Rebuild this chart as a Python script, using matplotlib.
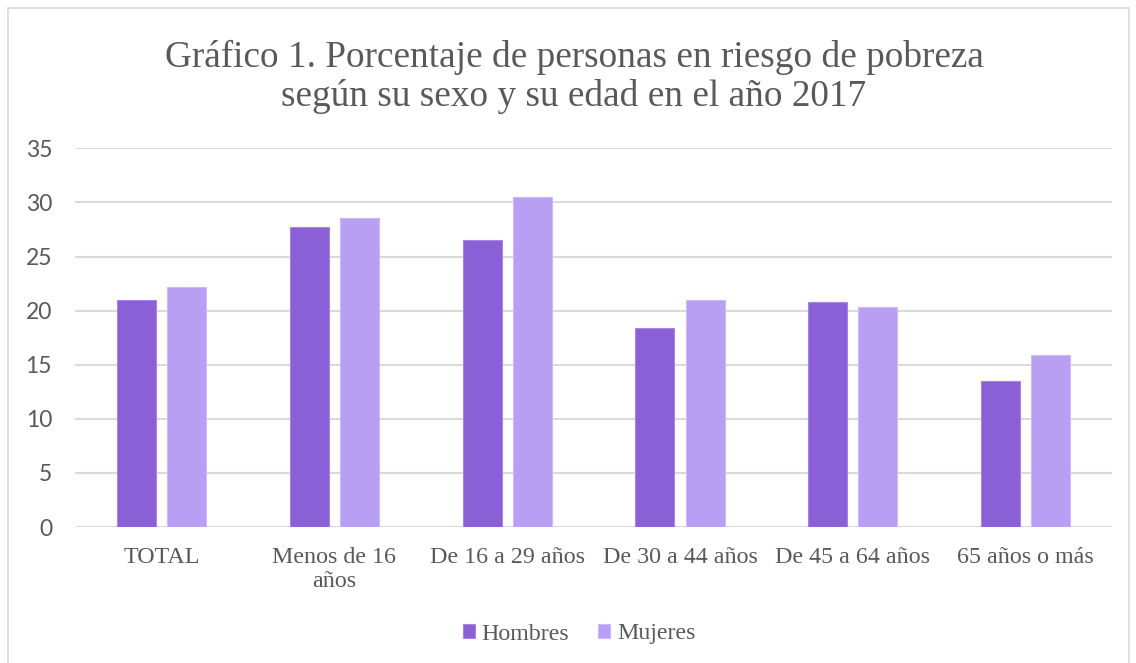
import matplotlib.pyplot as plt
import numpy as np
from matplotlib.patches import Rectangle

categorias = ['TOTAL', 'Menos de 16\naños', 'De 16 a 29 años', 'De 30 a 44 años',
              'De 45 a 64 años', '65 años o más']
hombres = [21.0, 27.7, 26.5, 18.4, 20.8, 13.5]
mujeres = [22.2, 28.6, 30.5, 21.0, 20.3, 15.9]
series = ['Hombres', 'Mujeres']

color_h = '#8B5FD6'
color_m = '#B89FF3'
gris = '#595959'

fig = plt.figure(figsize=(11.36, 6.63), dpi=100)
ax = fig.add_axes([0.066, 0.2051, 0.913, 0.5712])

# marco exterior del grafico
fig.patches.append(Rectangle((8 / 1136, -0.05), 1121 / 1136, 1 - 8 / 663 + 0.05,
                             transform=fig.transFigure, fill=False,
                             edgecolor='#D9D9D9', linewidth=1.2))

x = np.arange(len(categorias))
ancho = 0.225
desp = 0.145
ax.bar(x - desp, hombres, ancho, color=color_h, edgecolor='#A585E6', linewidth=0.8,
       label=series[0], zorder=3)
ax.bar(x + desp, mujeres, ancho, color=color_m, edgecolor='#CDB9FA', linewidth=0.8,
       label=series[1], zorder=3)

ax.set_xlim(-0.5, len(categorias) - 0.5)
ax.set_ylim(0, 35)
ax.set_yticks(range(0, 36, 5))
ax.grid(axis='y', color='#D9D9D9', linewidth=1.5, zorder=0)
for s in ax.spines.values():
    s.set_visible(False)
ax.tick_params(length=0)
ax.tick_params(axis='y', pad=16.5)
ax.tick_params(axis='x', pad=14.5)

ax.set_xticks(x)
ax.set_xticklabels(categorias, fontfamily='Liberation Serif', fontsize=17.3,
                   color=gris, linespacing=1.15)
for t in ax.get_yticklabels():
    t.set_fontfamily('Lato')
    t.set_fontsize(16.5)
    t.set_color(gris)

fig.text(574 / 1136, 1 - 77 / 663,
         'Gráfico 1. Porcentaje de personas en riesgo de pobreza\nsegún su sexo y su edad en el año 2017',
         ha='center', va='center', fontfamily='Liberation Serif', fontsize=26.8,
         color=gris, linespacing=1.13)

leg = fig.legend(loc='center', bbox_to_anchor=(579 / 1136, 1 - 634 / 663), ncol=2,
                 frameon=False, prop={'family': 'Liberation Serif', 'size': 17.2},
                 handlelength=0.5, handleheight=0.5, handletextpad=0.3,
                 columnspacing=1.2)
for t in leg.get_texts():
    t.set_color(gris)

fig.savefig('out.png', dpi=100)
